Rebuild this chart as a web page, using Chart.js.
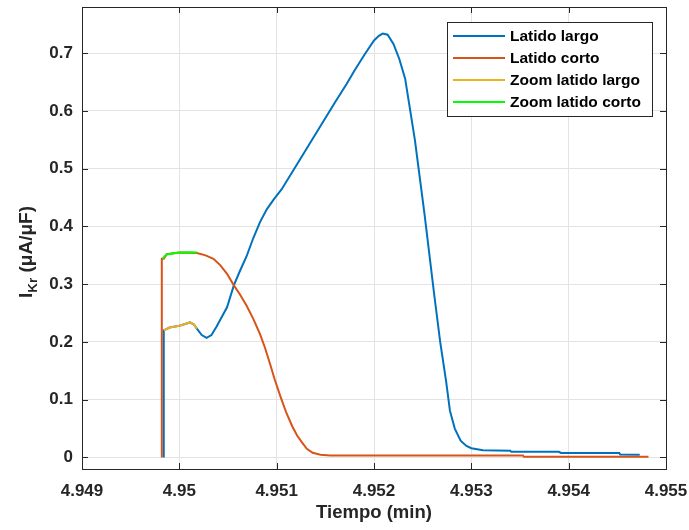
<!DOCTYPE html>
<html>
<head>
<meta charset="utf-8">
<script src="https://cdn.jsdelivr.net/npm/chart.js@4.4.1/dist/chart.umd.min.js"></script>
<style>
  html, body { margin: 0; padding: 0; background: #fff; }
  #wrap { width: 689px; height: 530px; }
</style>
</head>
<body>
<div id="wrap"><canvas id="chart" width="689" height="530"></canvas></div>
<script>
const xTicks = [4.949, 4.95, 4.951, 4.952, 4.953, 4.954, 4.955];
const yTicks = [0, 0.1, 0.2, 0.3, 0.4, 0.5, 0.6, 0.7];

const seriesLabels = ["Latido largo", "Latido corto", "Zoom latido largo", "Zoom latido corto"];
const seriesColors = ["#0072BD", "#D95319", "#EDB120", "#00FF00"];

// Latido largo (blue)
const largoX = [4.94984, 4.94984, 4.9499, 4.95, 4.95006, 4.95011, 4.95015, 4.95018, 4.95023, 4.95028,
  4.95033, 4.95038, 4.95049, 4.95056, 4.95062, 4.95069, 4.95076, 4.95083, 4.9509, 4.95097,
  4.95105, 4.9512, 4.9514, 4.9516, 4.95172, 4.9518, 4.9519, 4.952, 4.95205, 4.95209,
  4.95214, 4.9522, 4.95226, 4.95232, 4.95242, 4.95252, 4.95262, 4.95268, 4.95274, 4.95278,
  4.95283, 4.95289, 4.95295, 4.953, 4.95312, 4.9534, 4.95341, 4.9539, 4.95392, 4.95452,
  4.95453, 4.95473];
const largoY = [0, 0.22, 0.225, 0.228, 0.231, 0.234, 0.23, 0.223, 0.212, 0.207,
  0.212, 0.226, 0.26, 0.298, 0.322, 0.348, 0.38, 0.408, 0.43, 0.447,
  0.464, 0.505, 0.56, 0.615, 0.647, 0.67, 0.697, 0.722, 0.73, 0.734,
  0.732, 0.716, 0.69, 0.656, 0.55, 0.42, 0.28, 0.2, 0.133, 0.081,
  0.05, 0.029, 0.02, 0.016, 0.0126, 0.0115, 0.01, 0.0098, 0.0078, 0.0075,
  0.005, 0.0048];

// Latido corto (orange)
const cortoX = [4.94982, 4.94982, 4.94984, 4.94987, 4.95, 4.95018, 4.95027, 4.95035, 4.95042, 4.95049,
  4.95056, 4.95062, 4.95069, 4.95076, 4.95083, 4.95088, 4.95093, 4.95098, 4.95104, 4.9511,
  4.95116, 4.95121, 4.95126, 4.95131, 4.95137, 4.95145, 4.95155, 4.95353, 4.95354, 4.95482];
const cortoY = [0, 0.344, 0.344, 0.352, 0.355, 0.354, 0.35, 0.344, 0.333, 0.318,
  0.298, 0.283, 0.263, 0.24, 0.213, 0.19, 0.163, 0.135, 0.105, 0.077,
  0.054, 0.038, 0.026, 0.015, 0.008, 0.0048, 0.0035, 0.0035, 0.0012, 0.0012];

// Zoom latido largo (yellow)
const zoomLargoX = [4.94984, 4.9499, 4.95, 4.95006, 4.95011, 4.95015, 4.95018];
const zoomLargoY = [0.22, 0.225, 0.228, 0.231, 0.234, 0.23, 0.223];

// Zoom latido corto (green)
const zoomCortoX = [4.94983, 4.94985, 4.94988, 4.95, 4.9501, 4.95018];
const zoomCortoY = [0.344, 0.349, 0.352, 0.355, 0.3555, 0.355];

const axisColor = "#262626";
const fontFamily = "'Liberation Sans', Arial, Helvetica, sans-serif";

function toPoints(xs, ys) {
  return xs.map((x, i) => ({ x, y: ys[i] }));
}

function formatTick(value) {
  return String(Number(value.toFixed(3)));
}

const seriesData = [
  toPoints(largoX, largoY),
  toPoints(cortoX, cortoY),
  toPoints(zoomLargoX, zoomLargoY),
  toPoints(zoomCortoX, zoomCortoY),
];

// the first dataset is drawn on top, so feed them reversed (green on top, like matlab)
const datasets = [3, 2, 1, 0].map((i) => ({
  label: seriesLabels[i],
  data: seriesData[i],
  borderColor: seriesColors[i],
  backgroundColor: seriesColors[i],
  borderWidth: 2,
  pointRadius: 0,
  showLine: true,
  tension: 0,
}));

// box around the axes with inward tick marks
const framePlugin = {
  id: "frame",
  afterDraw(chart) {
    const { ctx, chartArea: a, scales } = chart;
    const len = 6;
    ctx.save();
    ctx.strokeStyle = axisColor;
    ctx.lineWidth = 1;
    ctx.beginPath();
    xTicks.forEach((v) => {
      const px = Math.round(scales.x.getPixelForValue(v)) + 0.5;
      ctx.moveTo(px, a.bottom);
      ctx.lineTo(px, a.bottom - len);
      ctx.moveTo(px, a.top);
      ctx.lineTo(px, a.top + len);
    });
    yTicks.forEach((v) => {
      const py = Math.round(scales.y.getPixelForValue(v)) + 0.5;
      ctx.moveTo(a.left, py);
      ctx.lineTo(a.left + len, py);
      ctx.moveTo(a.right, py);
      ctx.lineTo(a.right - len, py);
    });
    ctx.stroke();
    ctx.strokeRect(Math.round(a.left) + 0.5, Math.round(a.top) + 0.5,
      Math.round(a.right - a.left), Math.round(a.bottom - a.top));
    ctx.restore();
  },
};

// legend box inside the axes, top right
const legendPlugin = {
  id: "insideLegend",
  afterDraw(chart) {
    const { ctx } = chart;
    const box = { left: 447, top: 22, width: 205, height: 94 };
    ctx.save();
    ctx.fillStyle = "#fff";
    ctx.fillRect(box.left, box.top, box.width, box.height);
    ctx.strokeStyle = axisColor;
    ctx.lineWidth = 1;
    ctx.strokeRect(box.left + 0.5, box.top + 0.5, box.width, box.height);
    ctx.font = "bold 15.5px " + fontFamily;
    ctx.textBaseline = "middle";
    ctx.fillStyle = "#000";
    seriesLabels.forEach((label, i) => {
      const y = 36 + i * 22;
      ctx.strokeStyle = seriesColors[i];
      ctx.lineWidth = 2;
      ctx.beginPath();
      ctx.moveTo(453, y);
      ctx.lineTo(505, y);
      ctx.stroke();
      ctx.fillText(label, 510, y + 1);
    });
    ctx.restore();
  },
};

// y axis title with subscript
const yTitlePlugin = {
  id: "yTitle",
  afterDraw(chart) {
    const { ctx } = chart;
    const big = "bold 19px " + fontFamily;
    const small = "bold 13.5px " + fontFamily;
    ctx.save();
    ctx.translate(26, 252);
    ctx.rotate(-Math.PI / 2);
    ctx.fillStyle = axisColor;
    ctx.textBaseline = "alphabetic";
    ctx.font = big;
    const wI = ctx.measureText("I").width;
    const rest = " (\u03bcA/\u03bcF)";
    const wRest = ctx.measureText(rest).width;
    ctx.font = small;
    const wSub = ctx.measureText("Kr").width;
    let x = -(wI + wSub + wRest) / 2;
    const base = 6;
    ctx.font = big;
    ctx.fillText("I", x, base);
    x += wI;
    ctx.font = small;
    ctx.fillText("Kr", x, base + 5);
    x += wSub;
    ctx.font = big;
    ctx.fillText(rest, x, base);
    ctx.restore();
  },
};

new Chart(document.getElementById("chart"), {
  type: "scatter",
  data: { datasets },
  options: {
    responsive: false,
    animation: false,
    devicePixelRatio: 1,
    layout: { padding: { top: 7, right: 23, left: 0, bottom: 0 } },
    plugins: {
      legend: { display: false },
      tooltip: { enabled: false },
    },
    scales: {
      x: {
        type: "linear",
        min: 4.949,
        max: 4.955,
        afterBuildTicks: (scale) => { scale.ticks = xTicks.map((value) => ({ value })); },
        afterFit: (scale) => {
          scale.height = 61;
          scale.paddingLeft = 0;
          scale.paddingRight = 0;
        },
        grid: { color: "#e3e3e3", drawTicks: false },
        border: { display: false },
        ticks: {
          color: axisColor,
          padding: 12,
          maxRotation: 0,
          autoSkip: false,
          font: { family: fontFamily, size: 17, weight: "bold" },
          callback: (value) => formatTick(value),
        },
        title: {
          display: true,
          text: "Tiempo (min)",
          color: axisColor,
          padding: { top: 0, bottom: 6 },
          font: { family: fontFamily, size: 18.5, weight: "bold" },
        },
      },
      y: {
        type: "linear",
        min: -0.02,
        max: 0.78,
        afterBuildTicks: (scale) => { scale.ticks = yTicks.map((value) => ({ value })); },
        afterFit: (scale) => {
          scale.width = 82;
          scale.paddingTop = 0;
          scale.paddingBottom = 0;
        },
        grid: { color: "#e3e3e3", drawTicks: false },
        border: { display: false },
        ticks: {
          color: axisColor,
          padding: 9,
          autoSkip: false,
          font: { family: fontFamily, size: 17, weight: "bold" },
          callback: (value) => formatTick(value),
        },
      },
    },
  },
  plugins: [framePlugin, legendPlugin, yTitlePlugin],
});
</script>
</body>
</html>
